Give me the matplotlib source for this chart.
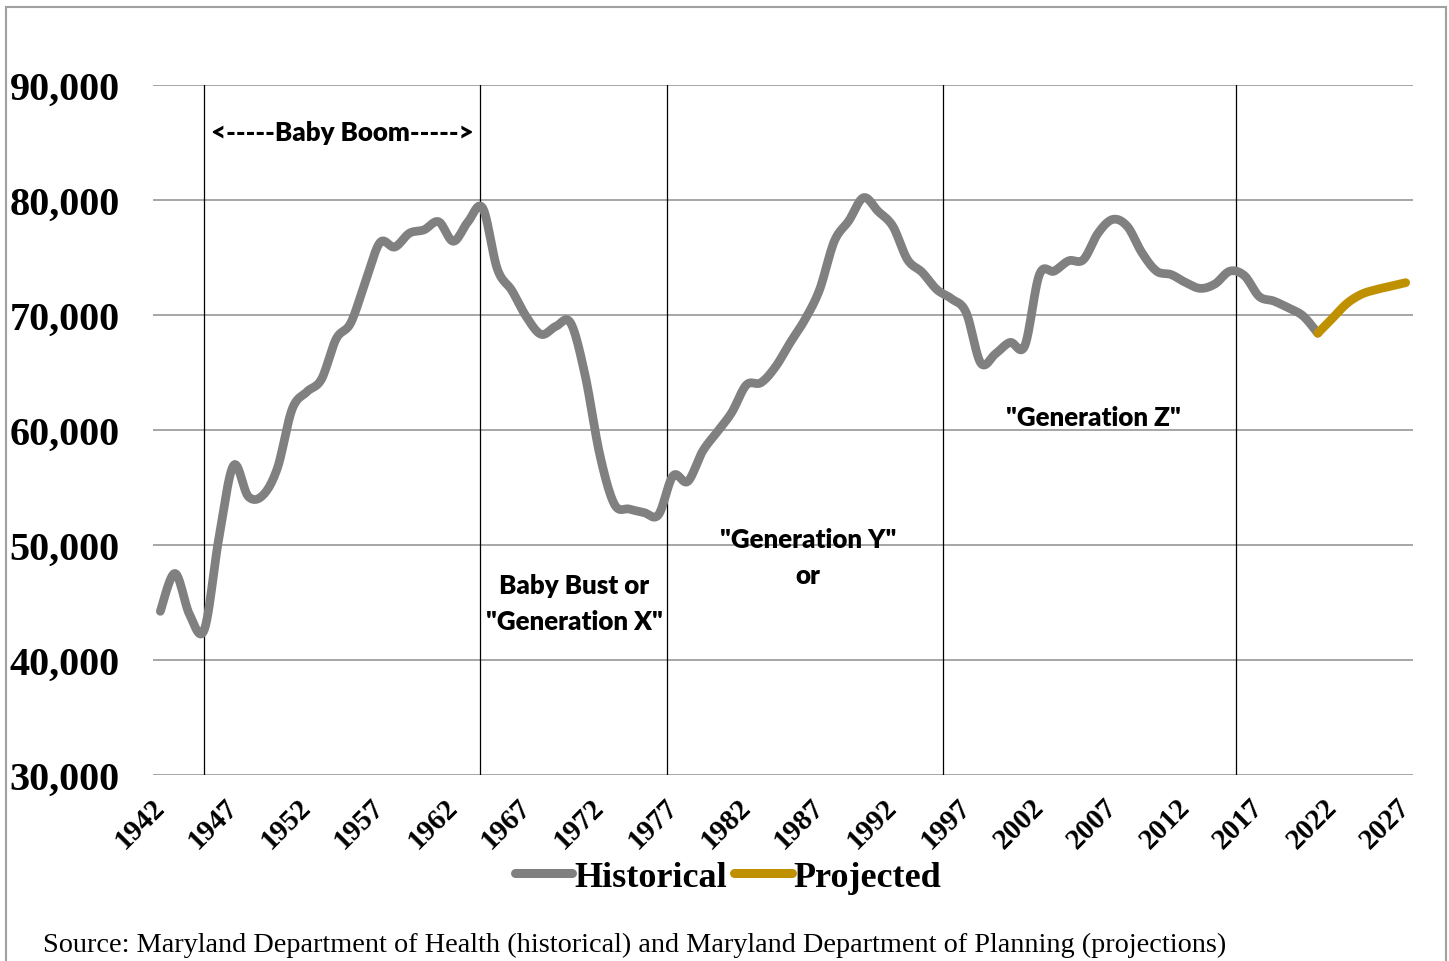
import numpy as np
import matplotlib.pyplot as plt
from matplotlib.patches import Rectangle
from matplotlib.lines import Line2D

# births per year, Maryland
hist_years = list(range(1942, 2022))
hist_births = [
    44200, 47500, 43900, 42600, 50600, 56900, 54200, 54300, 56700, 61800,
    63300, 64400, 67900, 69300, 72900, 76300, 75900, 77100, 77400, 78100,
    76400, 78100, 79300, 74000, 72100, 69800, 68300, 69000, 69300, 64700,
    57800, 53500, 53100, 52800, 52600, 56000, 55500, 58100, 59800, 61500,
    63900, 64100, 65500, 67600, 69600, 72200, 76400, 78200, 80200, 79000,
    77700, 74800, 73700, 72200, 71400, 70200, 65800, 66600, 67600, 67300,
    73500, 73800, 74700, 74800, 77100, 78300, 77700, 75400, 73800, 73500,
    72800, 72300, 72700, 73800, 73400, 71600, 71200, 70600, 69900, 68400,
]
proj_years = [2021, 2022, 2023, 2024, 2025, 2026, 2027]
proj_births = [68400, 69700, 71000, 71800, 72200, 72500, 72800]

gen_bounds = [1945.0, 1963.8, 1976.6, 1995.4, 2015.4]
xtick_years = list(range(1942, 2028, 5))
yticks = [30000, 40000, 50000, 60000, 70000, 80000, 90000]

serif = 'Liberation Serif'
sans = 'Lato'


def smooth(x, y, n=12):
    # excel-like smoothed line (catmull-rom through the points)
    x = np.asarray(x, float)
    y = np.asarray(y, float)
    px = np.concatenate([[x[0]], x, [x[-1]]])
    py = np.concatenate([[y[0]], y, [y[-1]]])
    t = np.linspace(0, 1, n, endpoint=False)[:, None]
    out_x, out_y = [], []
    for p in (px, py):
        p0, p1, p2, p3 = p[:-3], p[1:-2], p[2:-1], p[3:]
        seg = 0.5 * (2 * p1 + (-p0 + p2) * t + (2 * p0 - 5 * p1 + 4 * p2 - p3) * t ** 2
                     + (-p0 + 3 * p1 - 3 * p2 + p3) * t ** 3)
        (out_x if p is px else out_y).append(np.append(seg.T.ravel(), p[-2]))
    return out_x[0], out_y[0]


fig = plt.figure(figsize=(14.49, 9.62), dpi=100)
ax = fig.add_axes([153 / 1449, 1 - 775.5 / 962, 1260 / 1449, 689.5 / 962])

grid_col = '#A6A6A6'
for v in yticks:
    ax.axhline(v, color=grid_col, lw=1.4, zorder=1)
for b in gen_bounds:
    ax.axvline(b, color='black', lw=0.9, zorder=2)

hx, hy = smooth(hist_years, hist_births)
px_, py_ = smooth(proj_years, proj_births)
ax.plot(hx, hy, color='#808080', lw=6.3,
        solid_capstyle='round', solid_joinstyle='round', zorder=3)
ax.plot(px_, py_, color='#BF9000', lw=6.3,
        solid_capstyle='round', solid_joinstyle='round', zorder=4)

ax.set_xlim(1941.5, 2027.5)
ax.set_ylim(30000, 90000)
for s in ax.spines.values():
    s.set_visible(False)

ax.set_yticks(yticks)
ax.set_yticklabels([f'{v:,}' for v in yticks], fontfamily=serif,
                   fontweight='bold', fontsize=29)
ax.set_xticks(xtick_years)
ax.set_xticklabels([str(y) for y in xtick_years], fontfamily=serif,
                   fontweight='bold', fontsize=21, rotation=45,
                   ha='right', va='center', rotation_mode='anchor')
ax.tick_params(axis='y', length=0, pad=24)
ax.tick_params(axis='x', length=0, pad=20)

# generation labels
ann = dict(fontfamily=sans, fontweight='heavy', fontsize=18.6,
           ha='center', va='center', linespacing=1.6)
ax.text(1954.4, 85900, '<-----Baby Boom----->', **ann)
ax.text(1970.25, 44900, 'Baby Bust or\n"Generation X"', **ann)
ax.text(1986.2, 48900, '"Generation Y"\nor', **ann)
ax.text(2005.7, 61100, '"Generation Z"', **ann)

handles = [
    Line2D([], [], color='#808080', lw=6.5, solid_capstyle='round'),
    Line2D([], [], color='#BF9000', lw=6.5, solid_capstyle='round'),
]
fig.legend(handles, ['Historical', 'Projected'], loc='center',
           bbox_to_anchor=(728 / 1449, 1 - 878 / 962), ncol=2, frameon=False,
           prop={'family': serif, 'weight': 'bold', 'size': 26},
           handlelength=1.6, handletextpad=0.05, columnspacing=0.2)

fig.text(43 / 1449, 1 - 945 / 962,
         'Source: Maryland Department of Health (historical) and Maryland '
         'Department of Planning (projections)',
         fontfamily=serif, fontsize=20.3, ha='left', va='center')

fig.patches.append(Rectangle((6 / 1449, -0.05), 1440 / 1449, 1.05 - 8 / 962,
                             transform=fig.transFigure, fill=False,
                             edgecolor='#A0A0A0', lw=1.5))

fig.savefig('out.png', dpi=100)
